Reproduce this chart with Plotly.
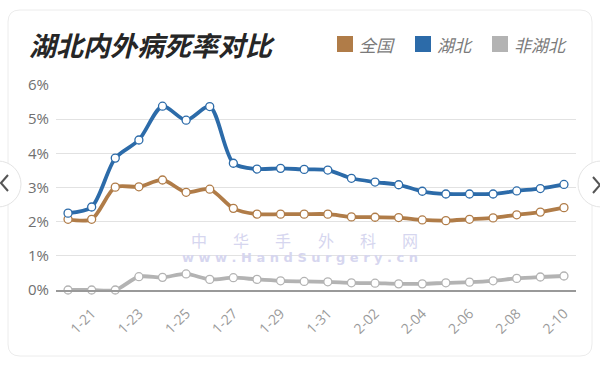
import plotly.graph_objects as go

dates = ["1-20", "1-21", "1-22", "1-23", "1-24", "1-25", "1-26", "1-27", "1-28", "1-29", "1-30",
         "1-31", "2-01", "2-02", "2-03", "2-04", "2-05", "2-06", "2-07", "2-08", "2-09", "2-10"]
national = [2.07, 2.07, 3.01, 3.02, 3.22, 2.86, 2.95, 2.39, 2.22, 2.22, 2.22,
            2.22, 2.14, 2.13, 2.12, 2.05, 2.03, 2.07, 2.11, 2.20, 2.28, 2.41]
hubei = [2.25, 2.43, 3.86, 4.39, 5.38, 4.97, 5.37, 3.71, 3.54, 3.56, 3.53,
         3.51, 3.27, 3.16, 3.08, 2.89, 2.81, 2.81, 2.81, 2.90, 2.97, 3.09]
non_hubei = [0.0, 0.0, 0.0, 0.39, 0.37, 0.47, 0.31, 0.36, 0.31, 0.27, 0.25,
             0.24, 0.21, 0.20, 0.18, 0.18, 0.21, 0.23, 0.27, 0.34, 0.38, 0.41]
tick_labels = ["1-21", "1-23", "1-25", "1-27", "1-29", "1-31", "2-02", "2-04", "2-06", "2-08", "2-10"]
y_ticks = [0, 1, 2, 3, 4, 5, 6]
series_names = ["全国", "湖北", "非湖北"]
colors = ["#b07c48", "#2c6ba9", "#b3b3b3"]

W, H = 600, 367
L, R, T, B = 56, 24, 85, 77
PW, PH = W - L - R, H - T - B


def px(x):
    return (x - L) / PW


def py(y):
    return (H - B - y) / PH


fig = go.Figure()
for name, vals, col in zip(series_names, [national, hubei, non_hubei], colors):
    fig.add_trace(go.Scatter(
        x=dates, y=vals, name=name, mode="lines+markers",
        line=dict(color=col, width=3.8, shape="spline", smoothing=0.8),
        marker=dict(size=8, color="white", line=dict(color=col, width=1.3)),
        cliponaxis=False, showlegend=False,
    ))

shapes = []
annotations = []

# card
x0, y0, x1, y1, r = 8, 10, 592, 356, 12
path = (f"M {px(x0+r)} {py(y0)} L {px(x1-r)} {py(y0)} Q {px(x1)} {py(y0)} {px(x1)} {py(y0+r)} "
        f"L {px(x1)} {py(y1-r)} Q {px(x1)} {py(y1)} {px(x1-r)} {py(y1)} "
        f"L {px(x0+r)} {py(y1)} Q {px(x0)} {py(y1)} {px(x0)} {py(y1-r)} "
        f"L {px(x0)} {py(y0+r)} Q {px(x0)} {py(y0)} {px(x0+r)} {py(y0)} Z")
shapes.append(dict(type="path", path=path, xref="paper", yref="paper",
                   line=dict(color="#ececec", width=1), fillcolor="white", layer="below"))

# legend
leg_x = [337, 415, 492]
for name, col, lx in zip(series_names, colors, leg_x):
    shapes.append(dict(type="rect", xref="paper", yref="paper",
                       x0=px(lx), x1=px(lx + 16), y0=py(36), y1=py(52),
                       fillcolor=col, line=dict(width=0)))
    annotations.append(dict(text=name, xref="paper", yref="paper", x=px(lx + 20), y=py(44),
                            xanchor="left", yanchor="middle", showarrow=False,
                            font=dict(family="Noto Sans CJK SC", size=17, color="#7a7a7a", style="italic")))

# title
annotations.append(dict(text="湖北内外病死率对比", xref="paper", yref="paper", x=px(27), y=py(44),
                        xanchor="left", yanchor="middle", showarrow=False,
                        font=dict(family="Noto Sans CJK SC", size=27, color="#262626",
                                  style="italic", weight="bold")))

# watermark
wm_chars = "中华手外科网"
for i, ch in enumerate(wm_chars):
    annotations.append(dict(text=ch, xref="paper", yref="paper", x=px(199 + 42.2 * i), y=py(240),
                            xanchor="center", yanchor="middle", showarrow=False,
                            font=dict(family="Noto Sans CJK SC", size=16, color="#d6d6ef")))
annotations.append(dict(text=" ".join("www.HandSurgery.cn"), xref="paper", yref="paper",
                        x=px(300), y=py(257), xanchor="center", yanchor="middle", showarrow=False,
                        font=dict(family="DejaVu Sans", size=13, color="#d6d6ef", weight="bold")))

# nav buttons
for cx in (-2, 601):
    shapes.append(dict(type="circle", xref="paper", yref="paper",
                       x0=px(cx - 23), x1=px(cx + 23), y0=py(161), y1=py(207),
                       fillcolor="white", line=dict(color="#e4e4e4", width=1)))
shapes.append(dict(type="path", xref="paper", yref="paper",
                   path=f"M {px(8)} {py(175)} L {px(1)} {py(183)} L {px(8)} {py(191)}",
                   line=dict(color="#555555", width=2)))
shapes.append(dict(type="path", xref="paper", yref="paper",
                   path=f"M {px(593)} {py(177)} L {px(600)} {py(185)} L {px(593)} {py(193)}",
                   line=dict(color="#555555", width=2)))

fig.update_layout(
    width=W, height=H, margin=dict(l=L, r=R, t=T, b=B),
    paper_bgcolor="white", plot_bgcolor="rgba(0,0,0,0)",
    shapes=shapes, annotations=annotations, showlegend=False,
    xaxis=dict(type="category", range=[-0.51, 21.51], tickmode="array", tickvals=tick_labels,
               ticktext=tick_labels, tickangle=-45, showgrid=False, zeroline=False,
               showline=True, linecolor="#999999", linewidth=1.5, ticks="",
               ticklabelstandoff=8,
               tickfont=dict(family="Open Sans", size=14, color="#9a9a9a")),
    yaxis=dict(range=[0, 6], tickmode="array", tickvals=y_ticks,
               ticktext=[f"{v}%" for v in y_ticks], showgrid=True, gridcolor="#e2e2e2",
               gridwidth=1, zeroline=False, showline=False, ticks="", ticklabelstandoff=6,
               tickfont=dict(family="Open Sans", size=15, color="#707070")),
)

fig.write_html("out.html", config={"displayModeBar": False},
               post_script="document.body.style.margin='0';document.body.style.overflow='hidden';")
